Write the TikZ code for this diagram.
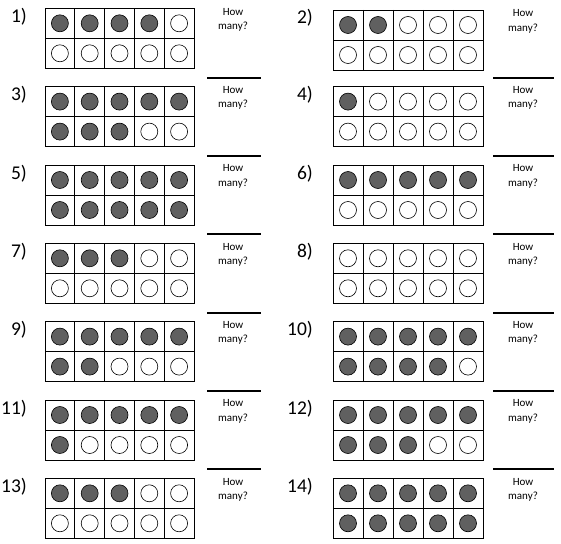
\documentclass[tikz,border=0pt]{standalone}
\usepackage{fontspec}
\setmainfont{Carlito}
\definecolor{dotgray}{HTML}{606060}
\begin{document}
\begin{tikzpicture}[x=1pt,y=-1pt,
  gridline/.style={line width=0.8pt, draw=black},
  dot/.style={circle, draw=black, line width=0.6pt, minimum size=17pt, inner sep=0pt},
  numlabel/.style={anchor=base east, font=\fontsize{19.5}{22}\selectfont, inner sep=0pt},
  howmany/.style={align=center, font=\fontsize{11}{14.5}\selectfont, inner sep=0pt, anchor=north},
  answerline/.style={line width=2pt}]
\useasboundingbox (0,0) rectangle (561,543);
\foreach \n/\xo/\cw/\yo/\tp/\bt/\lx/\hx/\la/\lb/\hasline in {
 1/45/29.8/8.3/4/0/27/233/207/261/0,
 2/333/30/10/2/0/313/523/493/554/0,
 3/45/29.8/86.6/5/3/27/233/207/261/1,
 4/333/30/86.6/1/0/313/523/493/554/1,
 5/45/29.8/165/5/5/27/233/207/261/1,
 6/333/30/165/5/0/313/523/493/554/1,
 7/45/29.8/243.3/3/0/27/233/207/261/1,
 8/333/30/243.3/0/0/313/523/493/554/1,
 9/45/29.8/321.6/5/2/27/233/207/261/1,
 10/333/30/321.6/5/4/313/523/493/554/1,
 11/45/29.8/400/5/1/27/233/207/261/1,
 12/333/30/400/5/3/313/523/493/554/1,
 13/45/29.8/478.3/3/0/27/233/207/261/1,
 14/333/30/478.3/5/5/313/523/493/554/1}{
  % frame
  \draw[gridline] (\xo,\yo) rectangle ++(5*\cw,60);
  \foreach \i in {1,...,4}{
    \draw[gridline] (\xo+\i*\cw,\yo) -- ++(0,60);
  }
  \draw[gridline] (\xo,\yo+30) -- ++(5*\cw,0);
  % dots
  \foreach \i in {1,...,5}{
    \ifnum\i>\tp\relax \def\fca{white}\else\def\fca{dotgray}\fi
    \ifnum\i>\bt\relax \def\fcb{white}\else\def\fcb{dotgray}\fi
    \node[dot, fill=\fca] (c\n-1-\i) at (\xo+\i*\cw-0.5*\cw,\yo+15) {};
    \node[dot, fill=\fcb] (c\n-2-\i) at (\xo+\i*\cw-0.5*\cw,\yo+45) {};
  }
  % label
  \node[numlabel] (lab\n) at (\lx,\yo+14) {\n)};
  % how many
  \node[howmany] (how\n) at (\hx,\yo-0.5) {How\\many?};
  \ifnum\hasline=1
    \draw[answerline] (\la,\yo-9) -- (\lb,\yo-9);
  \fi
}
\end{tikzpicture}
\end{document}
